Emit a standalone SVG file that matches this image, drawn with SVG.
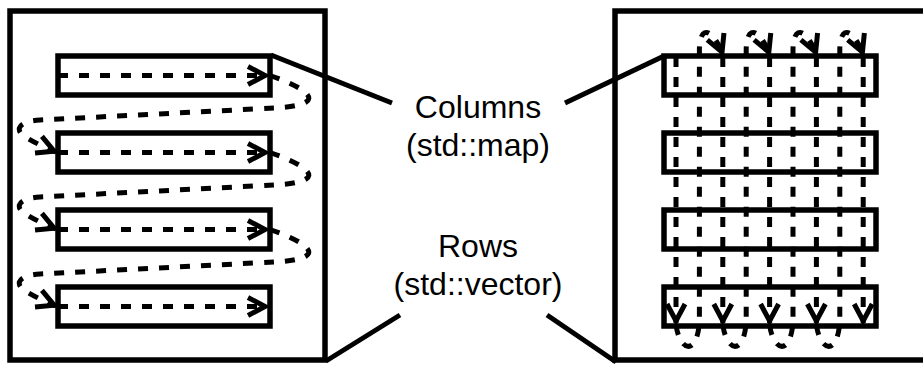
<svg xmlns="http://www.w3.org/2000/svg" width="923" height="369" viewBox="0 0 923 369">
  <style>
    .frame { fill: #fff; stroke: #000; stroke-width: 5.5; }
    .row { fill: none; stroke: #000; stroke-width: 5.5; }
    .flow-h { fill: none; stroke: #000; stroke-width: 5; stroke-dasharray: 10 11; }
    .flow-v { fill: none; stroke: #000; stroke-width: 5; stroke-dasharray: 10 10; }
    .lead { fill: none; stroke: #000; stroke-width: 5; }
    .label { font-family: "Liberation Sans", Arial, sans-serif; font-size: 32px; fill: #000; text-anchor: middle; }
  </style>
  <defs>
    <marker id="arrow" viewBox="-22 -13 28 26" markerWidth="28" markerHeight="26" refX="2" refY="0" orient="auto" markerUnits="userSpaceOnUse">
      <path d="M-17,-9 L0,0 L-17,9" fill="none" stroke="#000" stroke-width="5"/>
    </marker>
  </defs>

  <!-- left panel: rows stored in a vector, walked row by row -->
  <g id="vector-panel">
    <rect class="frame" x="10" y="11" width="315" height="349"/>
    <rect class="row" x="58" y="56" width="212" height="39"/>
    <rect class="row" x="58" y="133" width="212" height="39"/>
    <rect class="row" x="58" y="210" width="212" height="39"/>
    <rect class="row" x="58" y="287" width="212" height="39"/>
    <g id="row-walk">
      <path class="flow-h" d="M58,75.5 L267,75.5" marker-end="url(#arrow)"/>
      <path class="flow-h" d="M58,152.5 L267,152.5" marker-end="url(#arrow)"/>
      <path class="flow-h" d="M58,229.5 L267,229.5" marker-end="url(#arrow)"/>
      <path class="flow-h" d="M58,306.5 L267,306.5" marker-end="url(#arrow)"/>
      <path class="flow-h" d="M270,75.5 C298,85 316,96 306,102 C298,107 280,108 255,109 L40,120 C20,121 14,129 24,136 C33,142 44,147 56,152" marker-end="url(#arrow)"/>
      <path class="flow-h" d="M270,152.5 C298,162 316,173 306,179 C298,184 280,185 255,186 L40,197 C20,198 14,206 24,213 C33,219 44,224 56,229" marker-end="url(#arrow)"/>
      <path class="flow-h" d="M270,229.5 C298,239 316,250 306,256 C298,261 280,262 255,263 L40,274 C20,275 14,283 24,290 C33,296 44,301 56,306" marker-end="url(#arrow)"/>
    </g>
  </g>

  <!-- right panel: columns stored in a map, walked column by column -->
  <g id="map-panel">
    <rect class="frame" x="615" y="11" width="330" height="349"/>
    <rect class="row" x="664" y="56" width="212" height="39"/>
    <rect class="row" x="664" y="133" width="212" height="39"/>
    <rect class="row" x="664" y="210" width="212" height="39"/>
    <rect class="row" x="664" y="287" width="212" height="39"/>
    <g id="column-walk">
      <path class="flow-v" d="M676,57 L676,323" marker-end="url(#arrow)"/>
      <path class="flow-v" d="M722.8,57 L722.8,323" marker-end="url(#arrow)"/>
      <path class="flow-v" d="M769.6,57 L769.6,323" marker-end="url(#arrow)"/>
      <path class="flow-v" d="M816.4,57 L816.4,323" marker-end="url(#arrow)"/>
      <path class="flow-v" d="M863.2,57 L863.2,323" marker-end="url(#arrow)"/>
      <path class="flow-v" d="M676,325 C680,352 697,356 699.4,322 L699.4,50 C699.4,26 711.4,26 722.8,54" marker-end="url(#arrow)"/>
      <path class="flow-v" d="M722.8,325 C726.8,352 743.8,356 746.2,322 L746.2,50 C746.2,26 758.2,26 769.6,54" marker-end="url(#arrow)"/>
      <path class="flow-v" d="M769.6,325 C773.6,352 790.6,356 793,322 L793,50 C793,26 805,26 816.4,54" marker-end="url(#arrow)"/>
      <path class="flow-v" d="M816.4,325 C820.4,352 837.4,356 839.8,322 L839.8,50 C839.8,26 851.8,26 863.2,54" marker-end="url(#arrow)"/>
    </g>
  </g>

  <g id="connectors">
    <line class="lead" x1="271" y1="55" x2="392" y2="103"/>
    <line class="lead" x1="565" y1="103" x2="664" y2="56"/>
    <line class="lead" x1="400" y1="315" x2="326" y2="361"/>
    <line class="lead" x1="547" y1="315" x2="616" y2="362"/>
  </g>

  <g id="columns-label">
    <text class="label" x="478" y="118">Columns</text>
    <text class="label" x="478" y="156">(std::map)</text>
  </g>
  <g id="rows-label">
    <text class="label" x="478" y="257">Rows</text>
    <text class="label" x="478" y="295">(std::vector)</text>
  </g>
</svg>
